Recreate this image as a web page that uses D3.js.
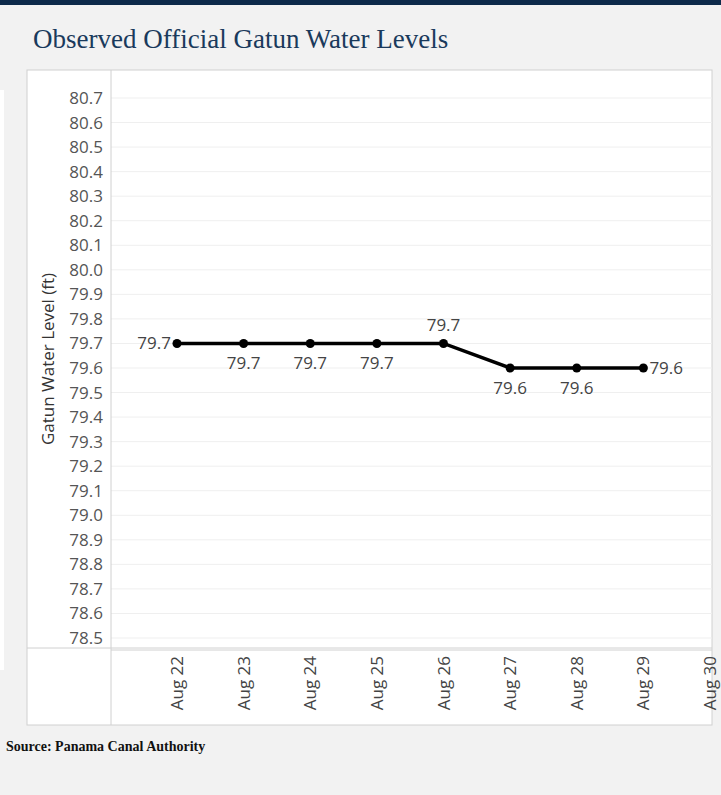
<!DOCTYPE html>
<html><head><meta charset="utf-8">
<script src="https://cdn.jsdelivr.net/npm/d3@7"></script>
<style>body{margin:0;background:#f2f2f2;}</style>
</head><body>
<svg id="c" width="721" height="795"></svg>
<script>
var dates = ["Aug 22","Aug 23","Aug 24","Aug 25","Aug 26","Aug 27","Aug 28","Aug 29"];
var allTicks = ["Aug 22","Aug 23","Aug 24","Aug 25","Aug 26","Aug 27","Aug 28","Aug 29","Aug 30"];
var levels = [79.7,79.7,79.7,79.7,79.7,79.6,79.6,79.6];
var labelPos = ["left","below","below","below","above","below","below","right"];
var yTicks = d3.range(785,808).map(function(v){return v/10;});

var svg = d3.select("#c");
svg.append("rect").attr("x",0).attr("y",0).attr("width",721).attr("height",5).attr("fill","#0d2a4a");
svg.append("text").attr("x",33).attr("y",48).text("Observed Official Gatun Water Levels")
  .style("font-family","Liberation Serif, serif").style("font-size","27px").attr("fill","#1a3a5c");
// left edge decoration
svg.append("rect").attr("x",0).attr("y",90).attr("width",4).attr("height",580).attr("fill","#fff");
svg.append("rect").attr("x",27).attr("y",70).attr("width",685).attr("height",655).attr("fill","#fff").attr("stroke","#d0d0d0");

var x = d3.scalePoint().domain(allTicks).range([177,710]);
var y = d3.scaleLinear().domain([78.5,80.7]).range([638,98]);

var g = svg.append("g");
yTicks.forEach(function(t){
  g.append("line").attr("x1",111).attr("x2",712).attr("y1",y(t)).attr("y2",y(t)).attr("stroke","#efefef");
  g.append("text").attr("x",103).attr("y",y(t)+6).attr("text-anchor","end").text(t.toFixed(1))
   .style("font-family","Open Sans, sans-serif").style("font-size","17px").attr("fill","#555");
});
g.append("line").attr("x1",111).attr("x2",111).attr("y1",70).attr("y2",725).attr("stroke","#d0d0d0");
g.append("line").attr("x1",27).attr("x2",712).attr("y1",648).attr("y2",648).attr("stroke","#d0d0d0");
g.append("line").attr("x1",111).attr("x2",712).attr("y1",650).attr("y2",650).attr("stroke","#d0d0d0");
svg.append("text").attr("transform","translate(54,359) rotate(-90)").attr("text-anchor","middle")
  .text("Gatun Water Level (ft)").style("font-family","Open Sans, sans-serif").style("font-size","17px").attr("fill","#333");

allTicks.forEach(function(d){
  svg.append("text").attr("transform","translate("+(x(d)+6)+",656) rotate(-90)").attr("text-anchor","end")
   .text(d).style("font-family","Open Sans, sans-serif").style("font-size","17px").attr("fill","#444");
});

var line = d3.line().x(function(d,i){return x(dates[i]);}).y(function(d){return y(d);});
svg.append("path").datum(levels).attr("d",line).attr("fill","none").attr("stroke","#000").attr("stroke-width",3.5);
svg.selectAll("circle.p").data(levels).enter().append("circle")
  .attr("cx",function(d,i){return x(dates[i]);}).attr("cy",function(d){return y(d);}).attr("r",4.5).attr("fill","#000");
svg.selectAll("text.l").data(levels).enter().append("text")
  .attr("x",function(d,i){var p=labelPos[i];return x(dates[i])+(p=="left"?-6:p=="right"?6:0);})
  .attr("y",function(d,i){var p=labelPos[i];return y(d)+(p=="above"?-12:p=="below"?26:6);})
  .attr("text-anchor",function(d,i){var p=labelPos[i];return p=="left"?"end":p=="right"?"start":"middle";})
  .text(function(d){return d.toFixed(1);})
  .style("font-family","Open Sans, sans-serif").style("font-size","17px").attr("fill","#444");

svg.append("text").attr("x",6).attr("y",751).text("Source: Panama Canal Authority")
  .style("font-family","Liberation Serif, serif").style("font-size","14px").style("font-weight","bold").attr("fill","#111");
</script>
</body></html>
